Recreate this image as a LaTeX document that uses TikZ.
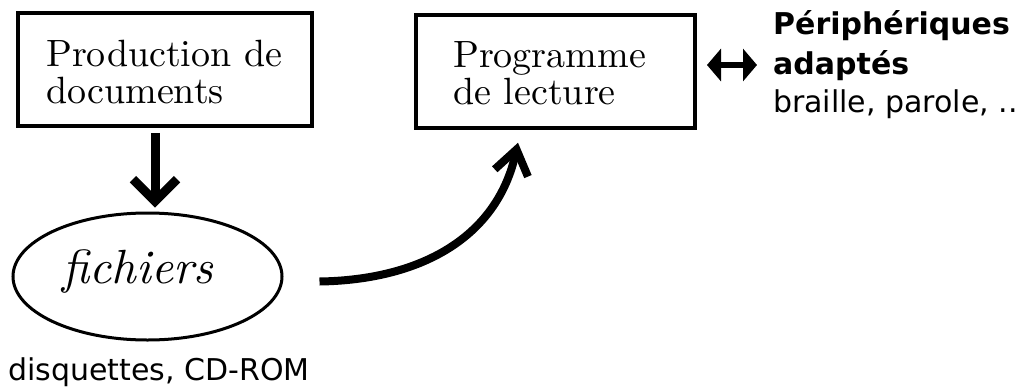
\documentclass[tikz,border=0pt]{standalone}
\usepackage{fontspec}
\setmainfont{lmroman10-regular.otf}[ItalicFont=lmroman10-italic.otf]
\newfontfamily\geneva{DejaVu Sans}
\usetikzlibrary{arrows.meta,shapes.geometric}
\tikzset{
  box/.style={draw, line width=3.5pt, rectangle, inner sep=0pt},
  boxtext/.style={align=left, font=\fontsize{38}{37}\selectfont},
  sanstext/.style={font=\geneva\fontsize{30}{36}\selectfont, inner sep=0pt, anchor=base west},
  bigarrow/.style={line width=9pt, -{Straight Barb[length=22pt,width=44pt]}},
  curvearrow/.style={line width=8pt, -{Straight Barb[length=24pt,width=34pt]}},
  dblarrow/.style={line width=6pt, {Triangle[length=14pt,width=32pt]}-{Triangle[length=14pt,width=32pt]}}
}
\begin{document}
\begin{tikzpicture}[x=1pt,y=1pt]
\path[use as bounding box, fill=white] (0,0) rectangle (1029,-386);

\node[box, minimum width=294pt, minimum height=113pt] (prod) at (165,-69.5) {};
\node[boxtext, anchor=base west, inner sep=0pt] (prodtxt) at (46,-103) {Production de\\documents};

\node[box, minimum width=279pt, minimum height=113pt] (prog) at (555.5,-71.5) {};
\node[boxtext, anchor=base west, inner sep=0pt] (progtxt) at (453,-104) {Programme\\de lecture};

\node[draw, ellipse, line width=3pt, minimum width=269pt, minimum height=127pt, inner sep=0pt] (fich) at (147.5,-276.5) {};
\node[anchor=base, inner sep=0pt, font=\fontsize{48}{50}\selectfont\itshape] (fichtxt) at (138,-283) {fichiers};

\node[sanstext] (disq) at (8,-380) {disquettes, CD-ROM};

\node[sanstext, font=\geneva\bfseries\fontsize{30}{36}\selectfont] (peri1) at (773,-34) {Périphériques};
\node[sanstext, font=\geneva\bfseries\fontsize{30}{36}\selectfont] (peri2) at (773,-74) {adaptés};
\node[sanstext] (peri3) at (773,-112) {braille, parole, ..};

\coordinate (dl) at (707,-65);
\coordinate (dr) at (757,-65);
\draw[dblarrow] (dl) -- (dr);

\draw[bigarrow] ([xshift=-10pt,yshift=-5pt]prod.south) -- ([xshift=7.5pt,yshift=4pt]fich.north);

\draw[curvearrow] ([xshift=36pt,yshift=-5pt]fich.east) .. controls (420,-280) and (497,-238) .. ([xshift=-37.5pt,yshift=-13pt]prog.south);
\end{tikzpicture}
\end{document}
